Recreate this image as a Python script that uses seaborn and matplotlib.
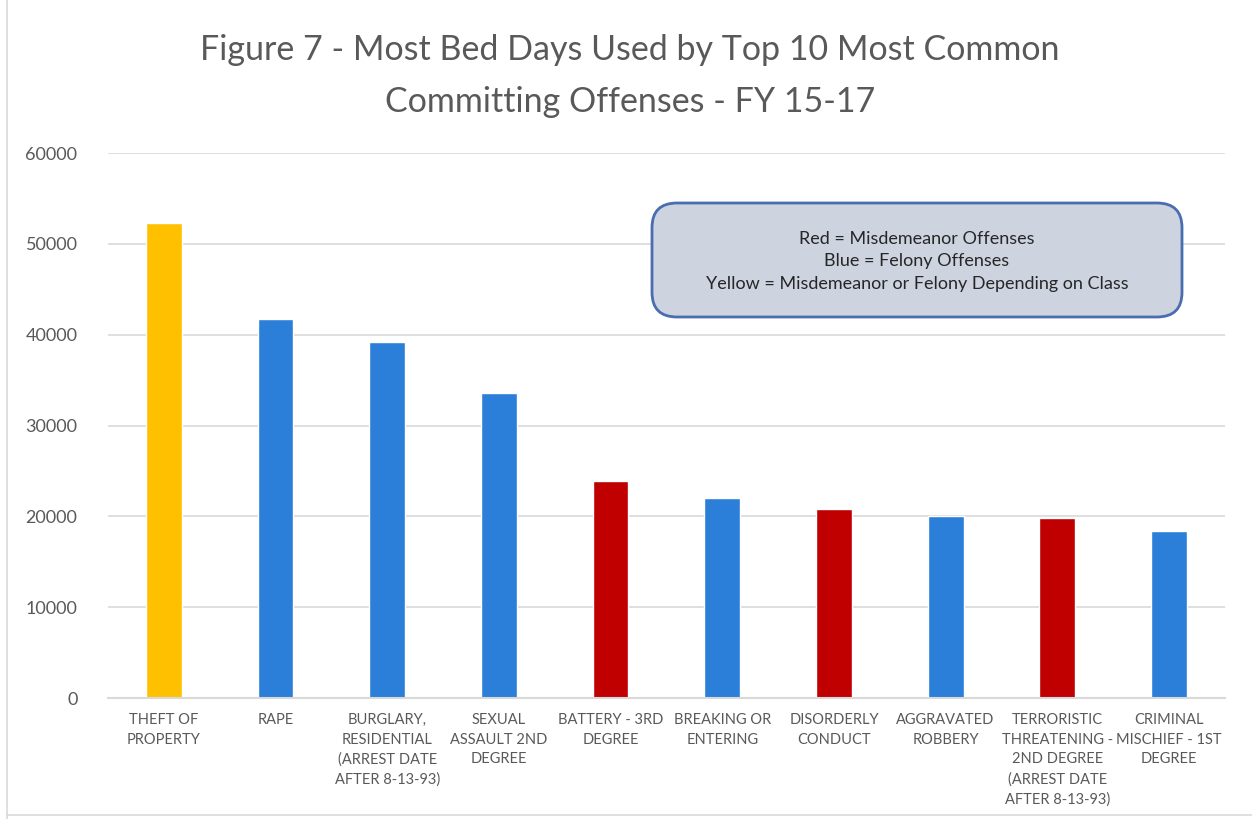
import matplotlib
matplotlib.use("Agg")
import matplotlib.pyplot as plt
import seaborn as sns
import pandas as pd
from matplotlib.patches import FancyBboxPatch

offenses = ["THEFT OF\nPROPERTY", "RAPE", "BURGLARY,\nRESIDENTIAL\n(ARREST DATE\nAFTER 8-13-93)",
            "SEXUAL\nASSAULT 2ND\nDEGREE", "BATTERY - 3RD\nDEGREE", "BREAKING OR\nENTERING",
            "DISORDERLY\nCONDUCT", "AGGRAVATED\nROBBERY", "TERRORISTIC\nTHREATENING -\n2ND DEGREE\n(ARREST DATE\nAFTER 8-13-93)",
            "CRIMINAL\nMISCHIEF - 1ST\nDEGREE"]
bed_days = [52300, 41700, 39200, 33600, 23900, 22000, 20800, 20000, 19800, 18400]
offense_class = ["Either", "Felony", "Felony", "Felony", "Misdemeanor", "Felony",
                 "Misdemeanor", "Felony", "Misdemeanor", "Felony"]
class_colors = {"Either": "#FFC000", "Felony": "#2B7FD9", "Misdemeanor": "#C00000"}

df = pd.DataFrame({"Offense": offenses, "Bed Days": bed_days, "Class": offense_class})

sns.set_style("white")
plt.rcParams['font.family'] = ['Lato', 'DejaVu Sans']

fig = plt.figure(figsize=(12.52, 8.19), dpi=100)
ax = fig.add_axes([0.0863, 0.1477, 0.8920, 0.6654])

sns.barplot(data=df, x="Offense", y="Bed Days", hue="Class", palette=class_colors,
            dodge=False, width=0.32, legend=False, ax=ax, saturation=1)

ax.set_ylim(0, 60000)
ax.set_xlim(-0.5, 9.5)
ax.set_yticks(range(0, 60001, 10000))
ax.yaxis.grid(True, color="#D9D9D9", linewidth=1.2)
ax.set_axisbelow(True)
for s in ["top", "right", "left"]:
    ax.spines[s].set_visible(False)
ax.spines["bottom"].set_color("#D9D9D9")
ax.spines["bottom"].set_linewidth(1.5)
ax.tick_params(axis="y", length=0, labelsize=13, labelcolor="#595959", pad=22)
ax.tick_params(axis="x", length=0, labelsize=10.5, labelcolor="#595959", pad=11)
for lbl in ax.get_xticklabels():
    lbl.set_horizontalalignment("center")
    lbl.set_verticalalignment("top")
    lbl.set_linespacing(1.5)
ax.set_xlabel("")
ax.set_ylabel("")

fig.text(0.503, 0.958, "Figure 7 - Most Bed Days Used by Top 10 Most Common\nCommitting Offenses - FY 15-17",
         ha="center", va="top", fontsize=24.5, color="#595959", linespacing=1.75)

box = FancyBboxPatch((652 / 1252, 1 - 317 / 819), (1182 - 652) / 1252, (317 - 203) / 819,
                     boxstyle="round,pad=0,rounding_size=0.02", transform=fig.transFigure,
                     facecolor="#CDD3DF", edgecolor="#4A6CB0", linewidth=2, mutation_aspect=1.5)
fig.patches.append(box)
fig.text(917 / 1252, 1 - 261 / 819,
         "Red = Misdemeanor Offenses\nBlue = Felony Offenses\nYellow = Misdemeanor or Felony Depending on Class",
         ha="center", va="center", fontsize=13, color="#262626", linespacing=1.5)

# chart area border (left & bottom edges visible)
fig.add_artist(plt.Line2D([7 / 1252, 7 / 1252], [0, 1], transform=fig.transFigure, color="#D9D9D9", linewidth=1.2))
fig.add_artist(plt.Line2D([7 / 1252, 1], [4 / 819, 4 / 819], transform=fig.transFigure, color="#D9D9D9", linewidth=1.2))

fig.savefig("out.png", dpi=100)
